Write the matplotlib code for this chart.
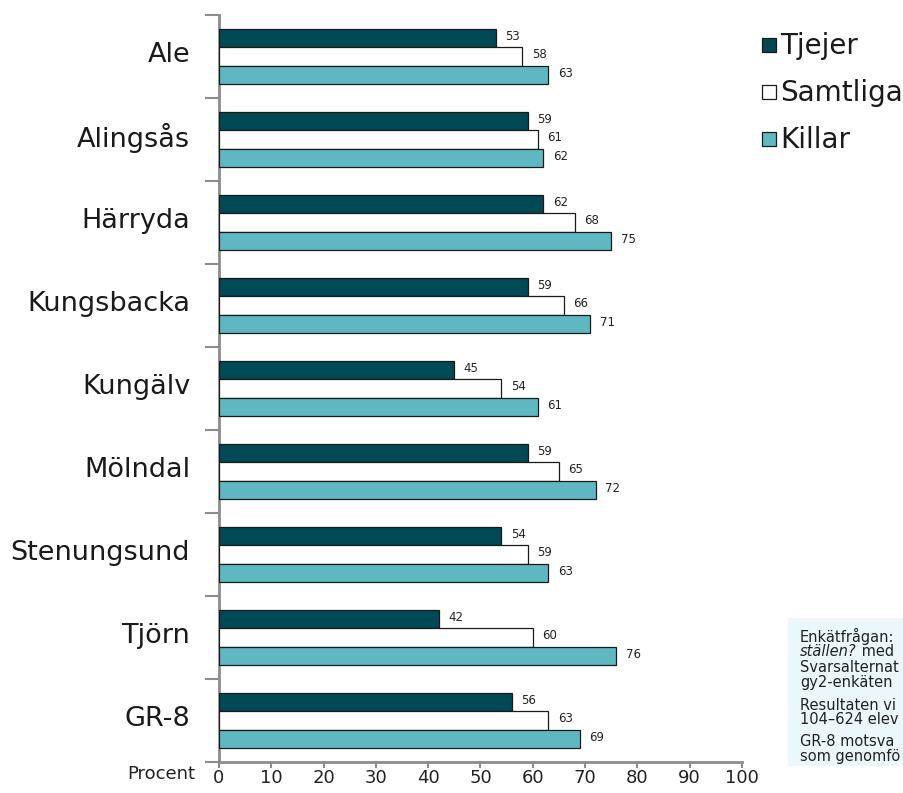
import matplotlib

matplotlib.use("Agg")
import matplotlib.pyplot as plt
from matplotlib.patches import Rectangle
from matplotlib.text import Annotation
import numpy as np

plt.rcParams["font.family"] = ["DejaVu Sans"]

kommuner = ["Ale", "Alingsås", "Härryda", "Kungsbacka", "Kungälv",
            "Mölndal", "Stenungsund", "Tjörn", "GR-8"]
tjejer = [53, 59, 62, 59, 45, 59, 54, 42, 56]
samtliga = [58, 61, 68, 66, 54, 65, 59, 60, 63]
killar = [63, 62, 75, 71, 61, 72, 63, 76, 69]
series_names = ["Tjejer", "Samtliga", "Killar"]
x_ticks = list(range(0, 101, 10))

DARK, TEAL, WHITE = "#004a55", "#5fb8c1", "#ffffff"
AXIS = "#8c8c8c"
BOX = "#ebf7fa"
TXT = "#1a1a1a"

fig = plt.figure(figsize=(9.04, 7.93), dpi=100)
ax = fig.add_axes([219 / 904, 1 - 762 / 793, (742 - 219) / 904, (762 - 15) / 793])

n = len(kommuner)
h = 0.222
centers = n - 1 - np.arange(n) + 0.5  # Ale at top
series = [tjejer, samtliga, killar]
colors = [DARK, WHITE, TEAL]
offsets = [h, 0, -h]
for vals, c, off in zip(series, colors, offsets):
    ys = centers + off
    ax.barh(ys, vals, height=h, color=c, edgecolor="#1a1a1a", linewidth=0.9, zorder=3)
    for y, v in zip(ys, vals):
        ax.text(v + 1.8, y + 0.02, f"{v}", va="center", ha="left", fontsize=8.5,
                color="#222222")

ax.set_xlim(0, 100)
ax.set_ylim(0, n)
ax.set_xticks(x_ticks)
ax.set_xticklabels([str(t) for t in x_ticks], fontsize=13, color="#222222")
ax.set_yticks(np.arange(0, n + 1))
ax.set_yticklabels([])
ax.tick_params(axis="y", length=10, width=1.5, color=AXIS, direction="out")
ax.tick_params(axis="x", length=4, width=1.5, color=AXIS, direction="out", pad=1)
for s in ("top", "right"):
    ax.spines[s].set_visible(False)
for s in ("left", "bottom"):
    ax.spines[s].set_color(AXIS)
    ax.spines[s].set_linewidth(2)

for c_y, name in zip(centers, kommuner):
    ax.text(-0.055, c_y + 0.02, name, transform=ax.get_yaxis_transform(),
            ha="right", va="center", fontsize=19.5, color=TXT)

fig.text(195 / 904, 1 - 774 / 793, "Procent", ha="right", va="center",
         fontsize=13, color="#222222")

# legend
leg_y = [45, 92, 139]
for name, c, y in zip(series_names, colors, leg_y):
    fig.patches.append(Rectangle((762 / 904, 1 - (y + 7) / 793), 14 / 904, 14 / 793,
                                 transform=fig.transFigure, facecolor=c,
                                 edgecolor="#1a1a1a", linewidth=0.9))
    fig.text(780 / 904, 1 - (y + 1) / 793, name, ha="left", va="center",
             fontsize=20, color=TXT)

# note box, cut off at the right edge as in the source
fig.patches.append(Rectangle((788 / 904, 1 - 766 / 793), 120 / 904, 148 / 793,
                             transform=fig.transFigure, facecolor=BOX,
                             edgecolor="none", zorder=0.5))
note = [(636, "Enkätfrågan:"),
        (651, None),
        (667, "Svarsalternat"),
        (682, "gy2-enkäten"),
        (705, "Resultaten vi"),
        (720, "104–624 elev"),
        (741, "GR-8 motsva"),
        (756, "som genomfö")]
for y, txt in note:
    if txt is None:
        t = fig.text(800 / 904, 1 - y / 793, "ställen?", ha="left", va="center",
                     fontsize=10.5, style="italic", color="#222222")
        fig.add_artist(Annotation(" med", xy=(1, 0.5), xycoords=t, ha="left",
                                  va="center", fontsize=10.5, color="#222222"))
    else:
        fig.text(800 / 904, 1 - y / 793, txt, ha="left", va="center",
                 fontsize=10.5, color="#222222")

fig.savefig("out.png", dpi=100, facecolor="white")
